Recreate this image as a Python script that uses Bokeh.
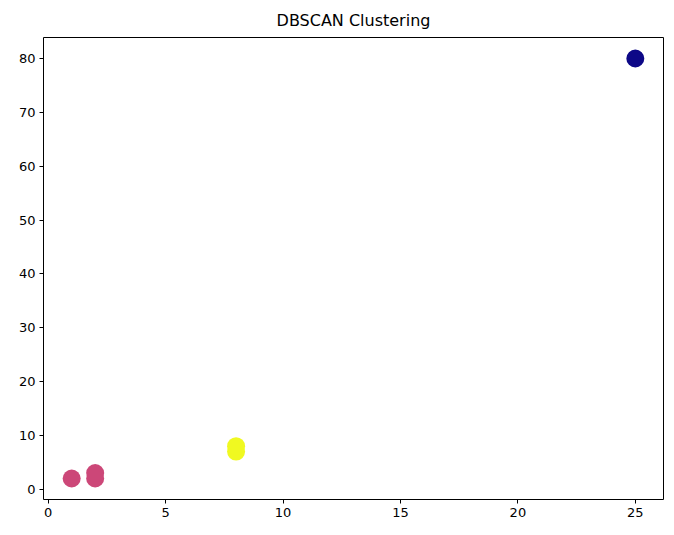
from bokeh.plotting import figure
from bokeh.models import ColumnDataSource, Range1d, FixedTicker
from bokeh.embed import file_html
from bokeh.resources import INLINE

x_vals = [1, 2, 2, 8, 8, 25]
y_vals = [2, 2, 3, 7, 8, 80]
labels = [0, 0, 0, 1, 1, -1]
label_colors = {-1: "#0d0887", 0: "#cc4778", 1: "#f0f921"}
x_ticks = [0, 5, 10, 15, 20, 25]
y_ticks = [0, 10, 20, 30, 40, 50, 60, 70, 80]

colors = [label_colors[l] for l in labels]
src = ColumnDataSource(dict(x=x_vals, y=y_vals, c=colors))

xpad = (max(x_vals) - min(x_vals)) * 0.05
ypad = (max(y_vals) - min(y_vals)) * 0.05

p = figure(width=664, height=527, output_backend="svg", toolbar_location=None,
           title="DBSCAN Clustering",
           x_range=Range1d(min(x_vals) - xpad, max(x_vals) + xpad),
           y_range=Range1d(min(y_vals) - ypad, max(y_vals) + ypad),
           min_border_left=43, min_border_right=1, min_border_bottom=28, min_border_top=10)
p.title.align = "center"
p.title.text_font = "DejaVu Sans"
p.title.text_font_size = "16px"
p.title.text_font_style = "normal"
p.title.text_color = "#000000"
p.title.standoff = 16

p.scatter("x", "y", source=src, size=18, fill_color="c", line_color="c", line_width=0)

p.xgrid.visible = False
p.ygrid.visible = False
p.outline_line_color = "black"
p.outline_line_width = 1
p.outline_line_alpha = 1

for ax in (p.xaxis[0], p.yaxis[0]):
    ax.axis_line_color = None
    ax.major_tick_line_color = "black"
    ax.major_tick_out = 4
    ax.major_tick_in = 0
    ax.minor_tick_line_color = None
    ax.major_label_text_font = "DejaVu Sans"
    ax.major_label_text_font_size = "13px"
    ax.major_label_text_color = "#000000"
    ax.major_label_standoff = 4

p.xaxis[0].ticker = FixedTicker(ticks=x_ticks)
p.yaxis[0].ticker = FixedTicker(ticks=y_ticks)

open("out.html", "w").write(file_html(p, INLINE))
